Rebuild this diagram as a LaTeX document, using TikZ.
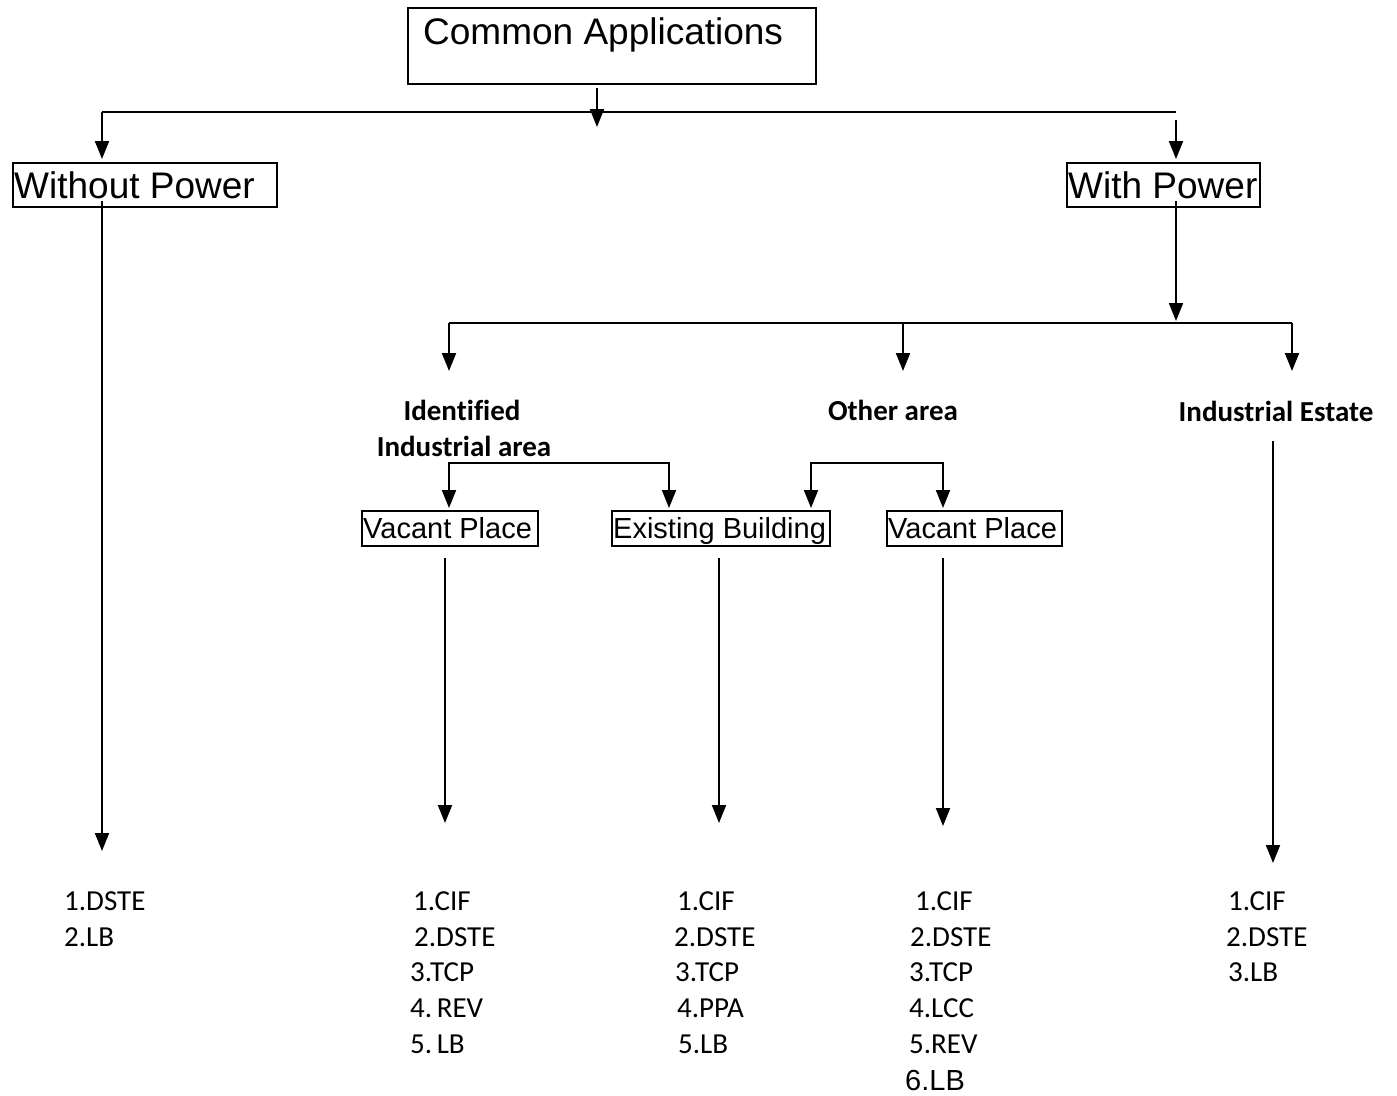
\documentclass[tikz,border=0pt]{standalone}
\usepackage{fontspec}
\setmainfont{Liberation Sans}
\newfontfamily\calfont[Ligatures=NoCommon]{Carlito}
\usetikzlibrary{arrows.meta}
\begin{document}
\begin{tikzpicture}[x=1pt,y=-1pt,
  box/.style={draw, line width=1.6pt, inner sep=0pt, anchor=north west},
  conn/.style={line width=2pt},
  arr/.style={conn, -{Triangle[length=18pt,width=14pt]}},
  darr/.style={conn, {Triangle[length=18pt,width=14pt]}-{Triangle[length=18pt,width=14pt]}},
  big/.style={font=\fontsize{37}{37}\selectfont, inner sep=0pt, anchor=base west},
  mid/.style={font=\fontsize{29}{29}\selectfont, inner sep=0pt, anchor=base west},
  lab/.style={font=\calfont\bfseries\fontsize{29}{29}\selectfont, inner sep=0pt, anchor=base},
  item/.style={font=\calfont\fontsize{29}{29}\selectfont, inner sep=0pt, anchor=base west},
]
\useasboundingbox (0,0) rectangle (1397,1095);

% boxes
\node[box, minimum width=408pt, minimum height=76pt] (common) at (407,7) {};
\node[box, minimum width=264pt, minimum height=44pt] (wo) at (12,162) {};
\node[box, minimum width=193pt, minimum height=44pt] (wp) at (1066,162) {};
\node[box, minimum width=176pt, minimum height=35pt] (vp1) at (361,510) {};
\node[box, minimum width=218pt, minimum height=35pt] (eb) at (611,510) {};
\node[box, minimum width=175pt, minimum height=35pt] (vp2) at (886,510) {};

% box texts
\node[big] (commontxt) at (423,44) {Common Applications};
\node[big] (wotxt) at (14,198) {Without Power};
\node[big] (wptxt) at (1068,198) {With Power};
\node[mid] (vp1txt) at (363,538) {Vacant Place};
\node[mid] (ebtxt) at (613,538) {Existing Building};
\node[mid] (vp2txt) at (888,538) {Vacant Place};

% bold labels
\node[lab] (ida) at (462,420) {Identified};
\node[lab] (idb) at (464,456) {Industrial area};
\node[lab] (oth) at (893,420) {Other area};
\node[lab] (ies) at (1276,421) {Industrial Estate};

% junction coordinates
\coordinate (cA) at (597,88);
\coordinate (cB) at (597,127);
\coordinate (j1L) at (102,112);
\coordinate (j1R) at (1176,112);
\coordinate (j1Rb) at (1176,120);
\coordinate (woS) at (102,201);
\coordinate (woE) at (102,851);
\coordinate (wpS) at (1176,201);
\coordinate (wpE) at (1176,321);
\coordinate (j2L) at (449,323);
\coordinate (j2M) at (903,323);
\coordinate (j2R) at (1292,323);
\coordinate (j2Le) at (449,371);
\coordinate (j2Me) at (903,371);
\coordinate (j2Re) at (1292,371);
\coordinate (k1a) at (449,463);
\coordinate (k1b) at (669,463);
\coordinate (k2a) at (811,463);
\coordinate (k2b) at (943,463);
\coordinate (vp1S) at (445,558);
\coordinate (vp1E) at (445,823);
\coordinate (ebS) at (719,558);
\coordinate (ebE) at (719,823);
\coordinate (vp2S) at (943,558);
\coordinate (vp2E) at (943,826);
\coordinate (iesS) at (1273,441);
\coordinate (iesE) at (1273,863);

% connectors
\draw[arr] (cA) -- (cB);
\draw[conn] (j1L) -- (j1R);
\draw[arr] (j1L) -- ([yshift=3pt]j1L |- wo.north);
\draw[arr] (j1Rb) -- ([yshift=3pt]j1Rb |- wp.north);
\draw[arr] (woS) -- (woE);
\draw[arr] (wpS) -- (wpE);
\draw[conn] (j2L) -- (j2R);
\draw[arr] (j2L) -- (j2Le);
\draw[arr] (j2M) -- (j2Me);
\draw[arr] (j2R) -- (j2Re);
\draw[darr] ([yshift=2pt]k1a |- vp1.north) -- (k1a) -- (k1b) -- ([yshift=2pt]k1b |- eb.north);
\draw[darr] ([yshift=2pt]k2a |- eb.north) -- (k2a) -- (k2b) -- ([yshift=2pt]k2b |- vp2.north);
\draw[arr] (vp1S) -- (vp1E);
\draw[arr] (ebS) -- (ebE);
\draw[arr] (vp2S) -- (vp2E);
\draw[arr] (iesS) -- (iesE);

% lists
\node[item] (a1) at (64,910) {1.DSTE};
\node[item] (a2) at (64,946) {2.LB};

\node[item] (b1) at (413,910) {1.CIF};
\node[item] (b2) at (414,946) {2.DSTE};
\node[item] (b3) at (410,981) {3.TCP};
\node[item] (b4) at (410,1017) {4.\kern-2pt\ REV};
\node[item] (b5) at (410,1053) {5.\kern-2pt\ LB};

\node[item] (c1) at (677,910) {1.CIF};
\node[item] (c2) at (674,946) {2.DSTE};
\node[item] (c3) at (675,981) {3.TCP};
\node[item] (c4) at (677,1017) {4.PPA};
\node[item] (c5) at (678,1053) {5.LB};

\node[item] (d1) at (915,910) {1.CIF};
\node[item] (d2) at (910,946) {2.DSTE};
\node[item] (d3) at (909,981) {3.TCP};
\node[item] (d4) at (909,1017) {4.LCC};
\node[item] (d5) at (909,1053) {5.REV};
\node[mid] (d6) at (905,1090) {6.LB};

\node[item] (e1) at (1228,910) {1.CIF};
\node[item] (e2) at (1226,946) {2.DSTE};
\node[item] (e3) at (1228,981) {3.LB};
\end{tikzpicture}
\end{document}
